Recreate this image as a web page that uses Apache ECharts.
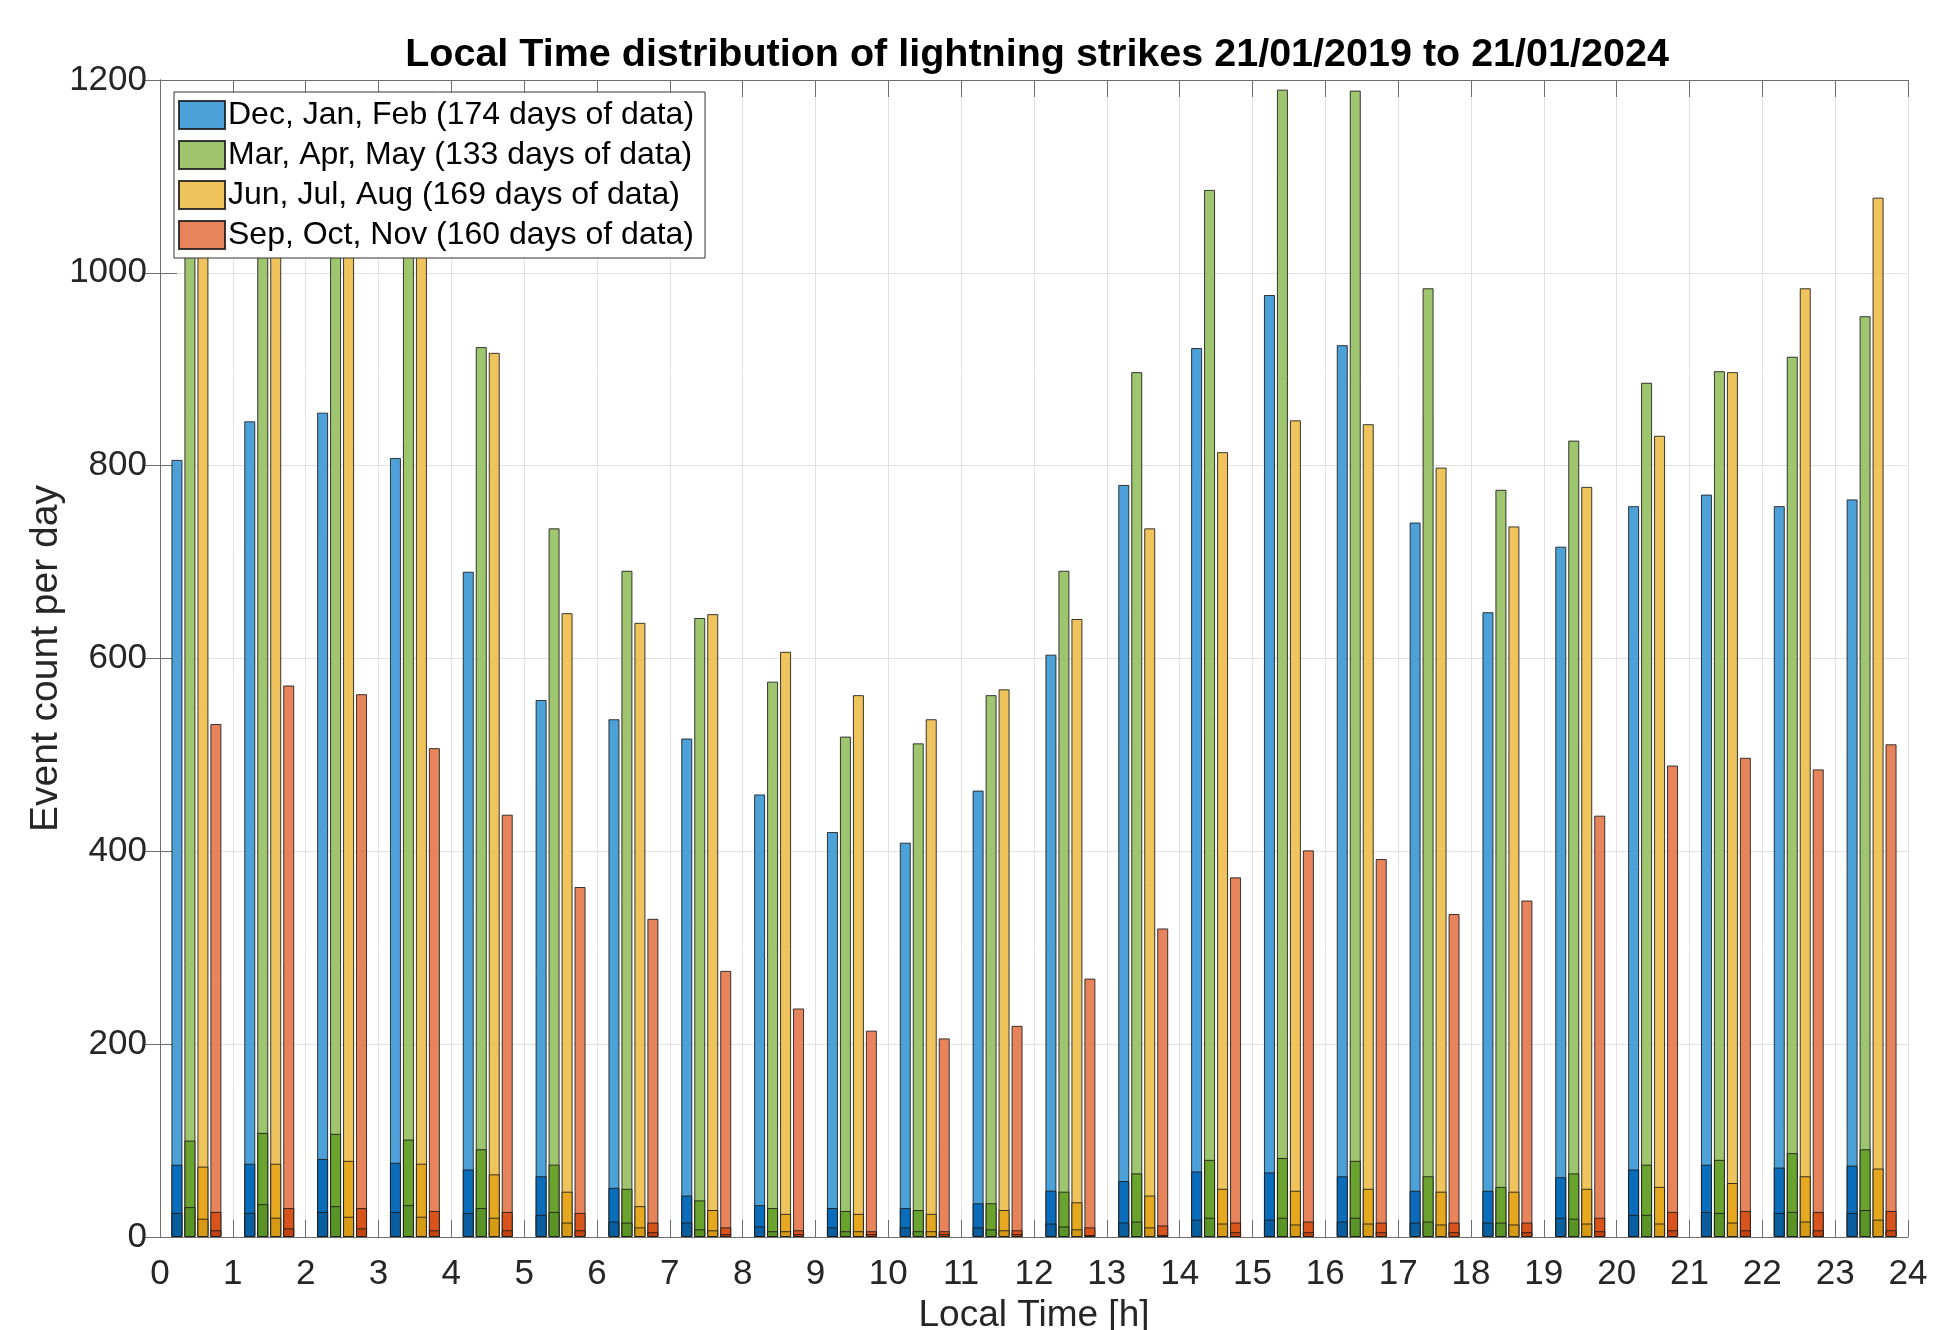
<!DOCTYPE html>
<html>
<head>
<meta charset="utf-8">
<title>Local Time distribution of lightning strikes</title>
<script src="https://cdn.jsdelivr.net/npm/echarts@6/dist/echarts.min.js"></script>
<style>
  html, body { margin: 0; padding: 0; background: #ffffff; overflow: hidden; }
  #chart { width: 1948px; height: 1330px; }
</style>
</head>
<body>
<div id="chart"></div>
<script>
// Hour-of-day bins (bar groups sit between consecutive integer hours)
const hourBins = ['0','1','2','3','4','5','6','7','8','9','10','11','12','13','14','15','16','17','18','19','20','21','22','23'];

const seasonNames = [
  'Dec, Jan, Feb (174 days of data)',
  'Mar, Apr, May (133 days of data)',
  'Jun, Jul, Aug (169 days of data)',
  'Sep, Oct, Nov (160 days of data)'
];

// Total events per day, per local hour
const winterTotal = [806, 846, 855, 808, 690, 557, 537, 517, 459, 420, 409, 463, 604, 780, 922, 977, 925, 741, 648, 716, 758, 770, 758, 765];
const springTotal = [1130, 1150, 1120, 1100, 923, 735, 691, 642, 576, 519, 512, 562, 691, 897, 1086, 1190, 1189, 984, 775, 826, 886, 898, 913, 955];
const summerTotal = [1090, 1110, 1100, 1060, 917, 647, 637, 646, 607, 562, 537, 568, 641, 735, 814, 847, 843, 798, 737, 778, 831, 897, 984, 1078];
const autumnTotal = [532, 572, 563, 507, 438, 363, 330, 276, 237, 214, 206, 219, 268, 320, 373, 401, 392, 335, 349, 437, 489, 497, 485, 511];

// Second layer (darker shade) per local hour
const winterMid = [75, 76, 81, 77, 70, 63, 51, 43, 33, 30, 30, 35, 48, 58, 68, 67, 63, 48, 48, 62, 70, 75, 72, 74];
const springMid = [100, 108, 107, 101, 91, 75, 50, 38, 30, 27, 28, 35, 47, 66, 80, 82, 79, 63, 52, 66, 75, 80, 87, 91];
const summerMid = [73, 76, 79, 76, 65, 47, 32, 28, 24, 24, 24, 28, 36, 43, 50, 48, 50, 47, 47, 50, 52, 56, 63, 71];
const autumnMid = [26, 30, 30, 27, 26, 25, 15, 10, 7, 6, 6, 7, 10, 12, 15, 16, 15, 15, 15, 20, 26, 27, 26, 27];

// Bottom layer (darkest shade) per local hour
const winterLow = [25, 25, 26, 26, 25, 23, 16, 15, 11, 10, 10, 10, 14, 15, 18, 18, 16, 15, 15, 20, 23, 26, 25, 25];
const springLow = [31, 34, 32, 33, 30, 26, 15, 8, 6, 6, 6, 8, 11, 16, 20, 20, 20, 16, 15, 19, 23, 25, 26, 28];
const summerLow = [19, 20, 21, 21, 20, 15, 10, 7, 6, 6, 6, 7, 8, 10, 14, 13, 14, 13, 13, 14, 14, 15, 16, 18];
const autumnLow = [7, 9, 9, 7, 7, 7, 5, 3, 3, 3, 3, 3, 2, 2, 5, 5, 5, 5, 5, 6, 7, 7, 7, 7];

// Axis ticks
const hourTicks = { min: 0, max: 24, step: 1 };
const countTicks = { min: 0, max: 1200, step: 200 };

const FONT = '"Liberation Sans", Arial, Helvetica, sans-serif';

const palette = {
  light: ['#4da1d9', '#9fc56f', '#f0c45c', '#e8845c'],
  mid:   ['#0a6dbb', '#6aa32e', '#e5a81f', '#d9531d'],
  dark:  ['#085e9f', '#5a9427', '#d69a14', '#c4440f']
};

const totals = [winterTotal, springTotal, summerTotal, autumnTotal];
const mids = [winterMid, springMid, summerMid, autumnMid];
const lows = [winterLow, springLow, summerLow, autumnLow];

// Plot box in pixels
const plot = { left: 160, top: 80, right: 40, bottom: 93 };
const W = 1948, H = 1330;

function barSeries(name, data, color, axisIndex) {
  return {
    type: 'bar',
    name: name,
    data: data,
    xAxisIndex: axisIndex,
    yAxisIndex: 0,
    barWidth: 11,
    barGap: '18%',
    itemStyle: {
      color: color,
      borderColor: 'rgba(25,25,25,0.85)',
      borderWidth: 1
    },
    emphasis: { disabled: true },
    animation: false
  };
}

const series = [];
totals.forEach((d, i) => series.push(barSeries(seasonNames[i], d, palette.light[i], 1)));
mids.forEach((d, i) => series.push(barSeries(seasonNames[i] + ' / layer 2', d, palette.mid[i], 2)));
lows.forEach((d, i) => series.push(barSeries(seasonNames[i] + ' / layer 3', d, palette.dark[i], 3)));

function hiddenCategoryAxis() {
  return {
    type: 'category',
    data: hourBins,
    boundaryGap: true,
    show: false,
    gridIndex: 0
  };
}

const frameColor = '#6e6e6e';
const gridColor = '#e2e2e2';
const labelColor = '#262626';

const option = {
  backgroundColor: '#ffffff',
  animation: false,
  title: {
    text: 'Local Time distribution of lightning strikes 21/01/2019 to 21/01/2024',
    left: 1032,
    top: 30,
    textAlign: 'center',
    textStyle: { fontFamily: FONT, fontSize: 39.5, fontWeight: 'bold', color: '#000000' }
  },
  legend: {
    data: seasonNames,
    orient: 'vertical',
    left: 174,
    top: 92,
    selectedMode: false,
    backgroundColor: '#ffffff',
    borderColor: '#333333',
    borderWidth: 1,
    padding: [3, 11, 3, 4],
    itemWidth: 46,
    itemHeight: 28,
    itemGap: 0,
    icon: 'rect',
    textStyle: { fontFamily: FONT, fontSize: 32, color: '#000000', lineHeight: 40, padding: [0, 0, 0, -2] },
    z: 10
  },
  grid: {
    left: plot.left, right: plot.right, top: plot.top, bottom: plot.bottom,
    containLabel: false,
    outerBoundsMode: 'none'
  },
  graphic: [
    {
      type: 'text',
      x: 46,
      y: (plot.top + H - plot.bottom) / 2,
      rotation: Math.PI / 2,
      style: {
        text: 'Event count per day',
        fontFamily: FONT,
        fontSize: 39,
        fill: labelColor,
        align: 'center',
        verticalAlign: 'middle'
      },
      silent: true
    }
  ],
  xAxis: [
    {
      type: 'value',
      min: hourTicks.min,
      max: hourTicks.max,
      interval: hourTicks.step,
      position: 'bottom',
      name: 'Local Time [h]',
      nameLocation: 'middle',
      nameGap: 55,
      nameTextStyle: { fontFamily: FONT, fontSize: 37, color: labelColor },
      axisLine: { show: true, lineStyle: { color: frameColor, width: 1 } },
      axisTick: { show: true, inside: true, length: 17, lineStyle: { color: frameColor } },
      axisLabel: { fontFamily: FONT, fontSize: 35, color: labelColor, margin: 20 },
      splitLine: { show: true, lineStyle: { color: gridColor, width: 1 } }
    },
    hiddenCategoryAxis(),
    hiddenCategoryAxis(),
    hiddenCategoryAxis(),
    {
      type: 'value',
      min: hourTicks.min,
      max: hourTicks.max,
      interval: hourTicks.step,
      position: 'top',
      axisLine: { show: true, lineStyle: { color: frameColor, width: 1 } },
      axisTick: { show: true, inside: true, length: 17, lineStyle: { color: frameColor } },
      axisLabel: { show: false },
      splitLine: { show: false }
    }
  ],
  yAxis: [
    {
      type: 'value',
      min: countTicks.min,
      max: countTicks.max,
      interval: countTicks.step,
      position: 'left',
      axisLine: { show: true, lineStyle: { color: frameColor, width: 1 } },
      axisTick: { show: true, inside: true, length: 17, lineStyle: { color: frameColor } },
      axisLabel: { fontFamily: FONT, fontSize: 35, color: labelColor, margin: 13, formatter: v => String(v) },
      splitLine: { show: true, lineStyle: { color: gridColor, width: 1 } }
    },
    {
      type: 'value',
      min: countTicks.min,
      max: countTicks.max,
      interval: countTicks.step,
      position: 'right',
      axisLine: { show: true, lineStyle: { color: frameColor, width: 1 } },
      axisTick: { show: true, inside: true, length: 17, lineStyle: { color: frameColor } },
      axisLabel: { show: false },
      splitLine: { show: false }
    }
  ],
  series: series
};

const chart = echarts.init(document.getElementById('chart'), null, { renderer: 'canvas', width: W, height: H });
chart.setOption(option);
</script>
</body>
</html>
